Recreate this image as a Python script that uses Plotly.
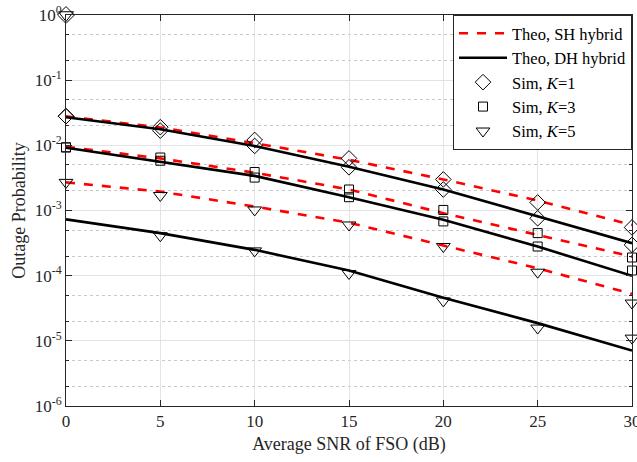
import plotly.graph_objects as go

snr = [0, 5, 10, 15, 20, 25, 30]

theo_sh_k1 = [0.0278, 0.0188, 0.0108, 0.0060, 0.0030, 0.00142, 0.0006]
theo_dh_k1 = [0.027, 0.0176, 0.0098, 0.0047, 0.0021, 0.00081, 0.000315]
sim_sh_k1 = [0.028, 0.019, 0.0121, 0.0063, 0.0030, 0.00133, 0.00055]
sim_dh_k1 = [0.028, 0.0168, 0.0098, 0.0046, 0.0021, 0.00076, 0.000297]

theo_sh_k3 = [0.0095, 0.0063, 0.0038, 0.0021, 0.00091, 0.00042, 0.000196]
theo_dh_k3 = [0.0092, 0.0056, 0.0034, 0.0016, 0.00072, 0.00028, 0.0000993]
sim_sh_k3 = [0.0093, 0.0065, 0.0039, 0.0021, 0.00102, 0.00045, 0.00019]
sim_dh_k3 = [0.0093, 0.0058, 0.0032, 0.0016, 0.00068, 0.00028, 0.00012]

theo_sh_k5 = [0.0027, 0.00195, 0.00115, 0.00065, 0.00029, 0.00013, 0.0000525]
theo_dh_k5 = [0.00073, 0.00045, 0.000249, 0.00012, 0.0000457, 0.0000187, 0.0000071]
sim_sh_k5 = [0.0027, 0.0017, 0.00102, 0.0006, 0.00028, 0.000113, 0.000038]
sim_dh_k5 = [None, 0.00041, 0.00024, 0.000108, 0.000041, 0.0000157, 0.000011]

dummy_x = [0, 0]
dummy_y = [1, 1]
dummy_symbols = ["diamond-open", "triangle-down-open"]

y_tickvals = [1e-6, 1e-5, 1e-4, 1e-3, 1e-2, 1e-1, 1]
y_ticktext = ["10<sup>-6</sup>", "10<sup>-5</sup>", "10<sup>-4</sup>", "10<sup>-3</sup>",
              "10<sup>-2</sup>", "10<sup>-1</sup>", "10<sup>0</sup>"]

FONT = "Liberation Serif"
RED = "#ff0000"

fig = go.Figure()

def theo(y, color, dash, name, show):
    fig.add_trace(go.Scatter(x=snr, y=y, mode="lines", name=name, showlegend=show,
                             line=dict(color=color, width=2.6, dash=dash), cliponaxis=False))

def sim(y, symbol, size, name, show):
    fig.add_trace(go.Scatter(x=snr, y=y, mode="markers", name=name, showlegend=show,
                             marker=dict(symbol=symbol, size=size, color="black",
                                         line=dict(color="black", width=1)),
                             cliponaxis=False))

theo(theo_sh_k1, RED, "dash", "Theo, SH hybrid", True)
theo(theo_dh_k1, "black", "solid", "Theo, DH hybrid", True)
theo(theo_sh_k3, RED, "dash", "Theo, SH hybrid", False)
theo(theo_dh_k3, "black", "solid", "Theo, DH hybrid", False)
theo(theo_sh_k5, RED, "dash", "Theo, SH hybrid", False)
theo(theo_dh_k5, "black", "solid", "Theo, DH hybrid", False)

sim(sim_sh_k1, "diamond-open", 12, "Sim, <i>K</i>=1", True)
sim(sim_dh_k1, "diamond-open", 12, "Sim, <i>K</i>=1", False)
sim(sim_sh_k3, "square-open", 9, "Sim, <i>K</i>=3", True)
sim(sim_dh_k3, "square-open", 9, "Sim, <i>K</i>=3", False)
sim(sim_sh_k5, "triangle-down-open", 12, "Sim, <i>K</i>=5", True)
sim(sim_dh_k5, "triangle-down-open", 12, "Sim, <i>K</i>=5", False)

fig.add_trace(go.Scatter(x=dummy_x, y=dummy_y, mode="markers", showlegend=False,
                         marker=dict(symbol=dummy_symbols, size=13, color="black",
                                     line=dict(color="black", width=1)),
                         cliponaxis=False))

fig.update_layout(
    width=637, height=462,
    margin=dict(l=66, r=5, t=15, b=56, autoexpand=False),
    paper_bgcolor="white", plot_bgcolor="white",
    font=dict(family=FONT, size=17, color="#262626"),
    legend=dict(x=1, y=1, xanchor="right", yanchor="top",
                bgcolor="white", bordercolor="#262626", borderwidth=1,
                font=dict(family=FONT, size=16.5, color="black"),
                tracegroupgap=0, itemwidth=48),
    xaxis=dict(range=[0, 30], tickvals=snr, ticks="inside", ticklen=6,
               tickcolor="#262626", showline=True, linecolor="#262626", linewidth=1,
               mirror="ticks", showgrid=True, gridcolor="#e3e3e3", gridwidth=1,
               zeroline=False, ticklabeloverflow="allow", automargin=False,
               title=dict(text="Average SNR of FSO (dB)", font=dict(size=18), standoff=6),
               tickfont=dict(size=17)),
    yaxis=dict(type="log", range=[-6, 0], tickvals=y_tickvals, ticktext=y_ticktext,
               ticks="inside", ticklen=6, tickcolor="#262626", automargin=False,
               showline=True, linecolor="#262626", linewidth=1, mirror="ticks",
               showgrid=True, gridcolor="#e3e3e3", gridwidth=1, zeroline=False,
               minor=dict(ticks="inside", ticklen=3, tickcolor="#262626",
                          showgrid=True, gridcolor="#c8c8c8", griddash="dot",
                          gridwidth=1),
               title=dict(text="Outage Probability", font=dict(size=18), standoff=4),
               tickfont=dict(size=17)),
)

fig.write_html("out.html")
